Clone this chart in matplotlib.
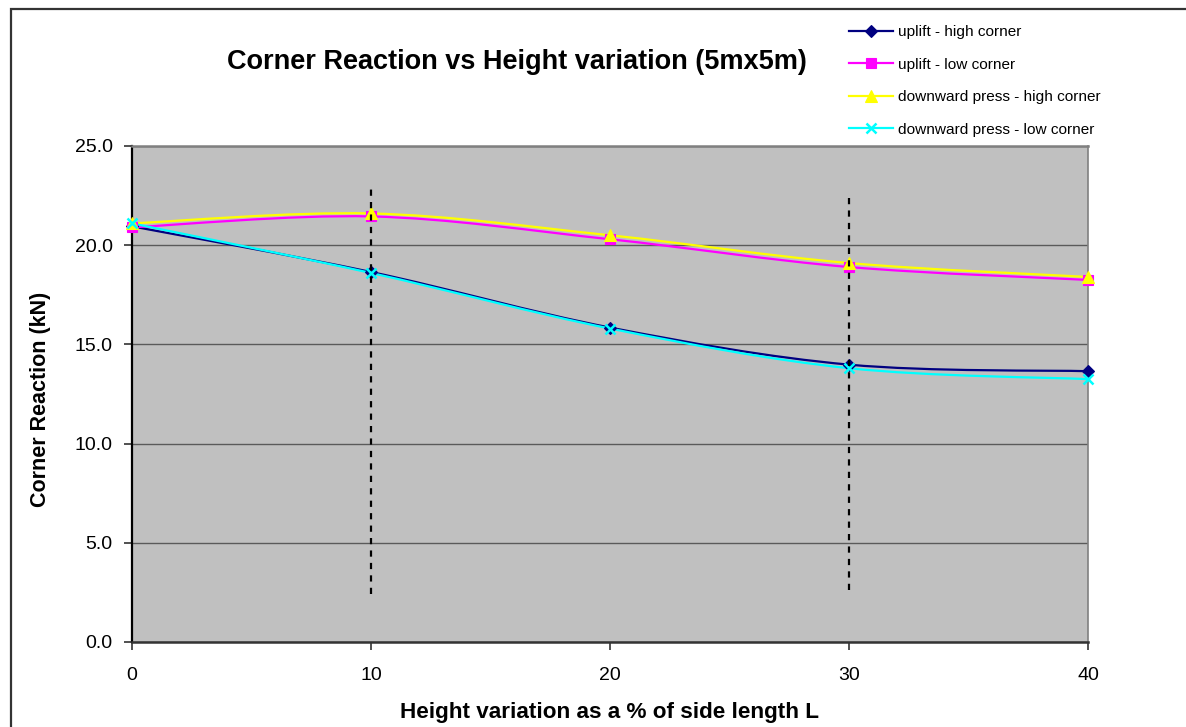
import numpy as np
import matplotlib
matplotlib.use("Agg")
import matplotlib.pyplot as plt
from matplotlib.path import Path
from matplotlib.patches import PathPatch, Rectangle
from matplotlib.lines import Line2D

plt.rcParams['font.family'] = ['Liberation Sans', 'DejaVu Sans']

# Hauteur relative (% de L) et réactions aux coins (kN)
height_pct = [0, 10, 20, 30, 40]
uplift_high = [20.95, 18.65, 15.85, 13.98, 13.65]
uplift_low = [20.9, 21.45, 20.3, 18.9, 18.25]
press_high = [21.1, 21.6, 20.5, 19.1, 18.4]
press_low = [21.1, 18.6, 15.8, 13.8, 13.25]

series = [
    ("uplift - high corner", uplift_high, "#000080", "D", 6.5),
    ("uplift - low corner", uplift_low, "#FF00FF", "s", 6.5),
    ("downward press - high corner", press_high, "#FFFF00", "^", 9),
    ("downward press - low corner", press_low, "#00FFFF", "x", 7.5),
]


def smooth_path(x, y):
    # courbe lissée type Excel (Catmull-Rom -> Bezier cubique)
    pts = np.column_stack([x, y]).astype(float)
    n = len(pts)
    verts = [pts[0]]
    codes = [Path.MOVETO]
    for i in range(n - 1):
        p0 = pts[i - 1] if i > 0 else pts[i]
        p1 = pts[i]
        p2 = pts[i + 1]
        p3 = pts[i + 2] if i + 2 < n else pts[i + 1]
        c1 = p1 + (p2 - p0) / 6.0
        c2 = p2 - (p3 - p1) / 6.0
        verts += [c1, c2, p2]
        codes += [Path.CURVE4] * 3
    return Path(verts, codes)


fig = plt.figure(figsize=(11.86, 7.27), dpi=100)
ax = fig.add_axes([132 / 1186, 1 - 642 / 727, 956 / 1186, 496 / 727])
ax.set_facecolor("#C0C0C0")

for label, vals, color, marker, ms in series:
    patch = PathPatch(smooth_path(height_pct, vals), facecolor="none",
                      edgecolor=color, lw=1.6, zorder=3)
    ax.add_patch(patch)
for label, vals, color, marker, ms in series:
    mew = 1.8 if marker == "x" else 0.8
    ax.plot(height_pct, vals, linestyle="none", marker=marker, ms=ms,
            color=color, mec=color, mew=mew, zorder=4, clip_on=False)

# repères verticaux en pointillés
ax.plot([10, 10], [2.4, 22.9], color="black", lw=1.6, ls=(0, (2.8, 2.8)), zorder=5)
ax.plot([30, 30], [2.6, 22.4], color="black", lw=1.6, ls=(0, (2.8, 2.8)), zorder=5)

ax.set_xlim(0, 40)
ax.set_ylim(0, 25)
ax.set_xticks([0, 10, 20, 30, 40])
ax.set_yticks(np.arange(0, 25.1, 5))
ax.set_yticklabels([f"{v:.1f}" for v in np.arange(0, 25.1, 5)])
ax.yaxis.grid(True, color="#5a5a5a", lw=1.0)
ax.set_axisbelow(True)
ax.tick_params(axis="both", direction="out", length=6, width=1.2,
               colors="#333333", labelcolor="black", labelsize=14)
ax.tick_params(axis="y", pad=8)
ax.tick_params(axis="x", pad=12)

ax.spines["left"].set_color("black")
ax.spines["left"].set_linewidth(1.6)
ax.spines["bottom"].set_color("#333333")
ax.spines["bottom"].set_linewidth(1.8)
ax.spines["top"].set_color("#808080")
ax.spines["top"].set_linewidth(1.8)
ax.spines["right"].set_color("#808080")
ax.spines["right"].set_linewidth(1.2)

ax.set_xlabel("Height variation as a % of side length L", fontsize=16.2,
              fontweight="bold", labelpad=13)
ax.set_ylabel("Corner Reaction (kN)", fontsize=15.5, fontweight="bold")
ax.yaxis.set_label_coords(-0.0845, 0.49)

fig.text(517 / 1186, 1 - 62 / 727, "Corner Reaction vs Height variation (5mx5m)",
         ha="center", va="center", fontsize=19.5, fontweight="bold")

handles = []
for label, vals, color, marker, ms in series:
    mew = 1.8 if marker == "x" else 0.8
    handles.append(Line2D([], [], color=color, lw=1.6, marker=marker, ms=ms,
                          mec=color, mew=mew))
fig.legend(handles, [s[0] for s in series], loc="upper left",
           bbox_to_anchor=(843 / 1186, 1 - 19 / 727), frameon=False,
           fontsize=11.1, handlelength=2.85, handletextpad=0.3,
           labelspacing=1.2, borderaxespad=0)

# cadre du graphique
fig.patches.append(Rectangle((11 / 1186, -0.1), 1.2, 1 - 9 / 727 + 0.1,
                             transform=fig.transFigure, fill=False,
                             edgecolor="#333333", lw=1.6, clip_on=False))

fig.savefig("out.png", dpi=100)
